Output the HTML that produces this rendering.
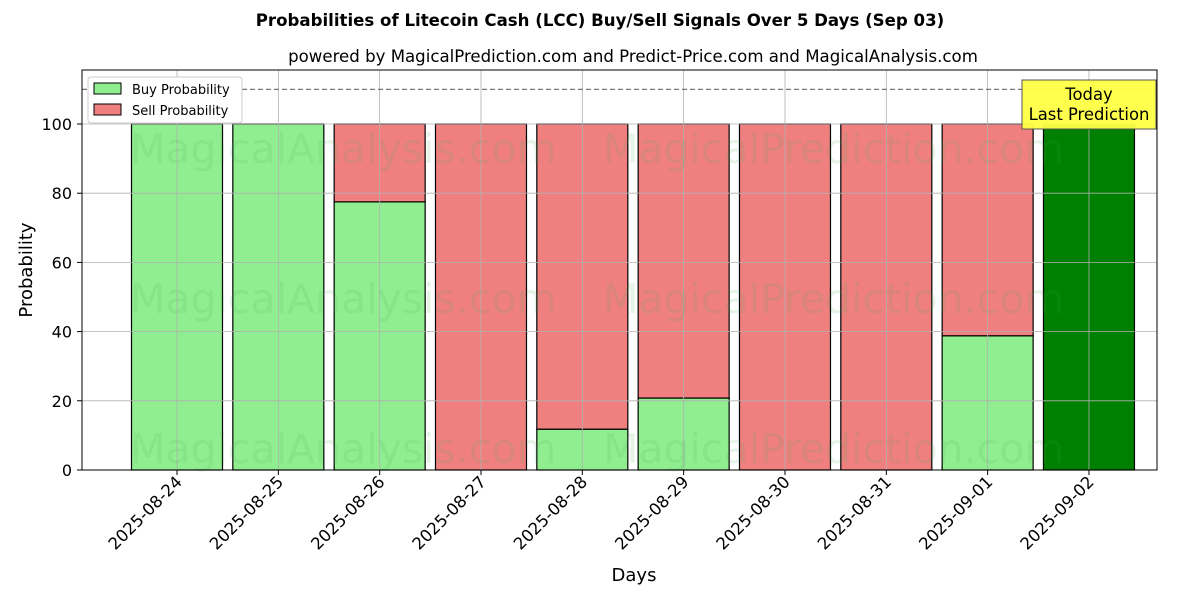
<!DOCTYPE html>
<html><head><meta charset="utf-8"><style>
body{margin:0;background:#fff;}
svg text{font-family:"DejaVu Sans","Liberation Sans",sans-serif;}
</style></head><body>
<svg id="chart" width="1200" height="600" xmlns="http://www.w3.org/2000/svg">
<rect width="1200" height="600" fill="#fff"/>
<text x="600" y="26" text-anchor="middle" font-size="16.6" font-weight="bold">Probabilities of Litecoin Cash (LCC) Buy/Sell Signals Over 5 Days (Sep 03)</text>
<text x="633" y="62" text-anchor="middle" font-size="16.6">powered by MagicalPrediction.com and Predict-Price.com and MagicalAnalysis.com</text>
<g id="bars"></g>
<g id="grid"></g>
<g fill="rgba(60,170,80,0.13)" font-size="41">
<text x="130" y="163">MagicalAnalysis.com</text><text x="603" y="163">MagicalPrediction.com</text>
<text x="130" y="313">MagicalAnalysis.com</text><text x="603" y="313">MagicalPrediction.com</text>
<text x="130" y="463">MagicalAnalysis.com</text><text x="603" y="463">MagicalPrediction.com</text>
</g>
<line x1="82" x2="1157" y1="89.4" y2="89.4" stroke="#777" stroke-dasharray="5,3" stroke-width="1.2"/>
<rect x="82" y="70" width="1075" height="400" fill="none" stroke="#000" stroke-width="1"/>
<g id="ticks"></g>
<text x="634" y="581" text-anchor="middle" font-size="18">Days</text>
<text transform="translate(32,270) rotate(-90)" text-anchor="middle" font-size="18">Probability</text>
<g>
<rect x="88" y="77" width="154" height="46" fill="#fff" stroke="#ccc" rx="3"/>
<rect x="94" y="83" width="27" height="11" fill="#90ee90" stroke="#000"/>
<text x="132" y="94" font-size="13">Buy Probability</text>
<rect x="94" y="104" width="27" height="11" fill="#f08080" stroke="#000"/>
<text x="132" y="115" font-size="13">Sell Probability</text>
</g>
<g>
<rect x="1022" y="80" width="134" height="49" fill="#ffff44" fill-opacity="0.95" stroke="#555"/>
<text x="1089" y="100" text-anchor="middle" font-size="16.4">Today</text>
<text x="1089" y="120" text-anchor="middle" font-size="16.4">Last Prediction</text>
</g>
</svg>
<script>
const categories=["2025-08-24","2025-08-25","2025-08-26","2025-08-27","2025-08-28","2025-08-29","2025-08-30","2025-08-31","2025-09-01","2025-09-02"];
const buyValues=[100,100,77.5,0,11.8,20.8,0,0,38.8,100];
const sellValues=[0,0,22.5,100,88.2,79.2,100,100,61.2,0];
const yTicks=[0,20,40,60,80,100];
const NS="http://www.w3.org/2000/svg";
const x=i=>177+i*101.33;
const y=v=>470-v*3.46;
const bw=91;
function mk(tag,attrs,parent){const e=document.createElementNS(NS,tag);for(const k in attrs)e.setAttribute(k,attrs[k]);parent.appendChild(e);return e;}
const bars=document.getElementById('bars'),grid=document.getElementById('grid'),ticks=document.getElementById('ticks');
categories.forEach((c,i)=>{
  const last=i===categories.length-1;
  const b=mk('rect',{x:x(i)-bw/2,y:y(buyValues[i]),width:bw,height:y(0)-y(buyValues[i]),fill:last?'#008000':'#90ee90',stroke:'#000','stroke-width':1.2},bars);
  
  
  const s=mk('rect',{x:x(i)-bw/2,y:y(buyValues[i]+sellValues[i]),width:bw,height:y(buyValues[i])-y(buyValues[i]+sellValues[i]),fill:'#f08080',stroke:'#000','stroke-width':1.2},bars);
  
  
  const g=mk('line',{x1:x(i),x2:x(i),y1:70,y2:470,stroke:'#b0b0b0','stroke-width':0.8},grid);
  
  
  mk('line',{x1:x(i),x2:x(i),y1:470,y2:475,stroke:'#000'},ticks);
  const t=mk('text',{x:0,y:0,'font-size':16.5,'text-anchor':'end',transform:`translate(${x(i)+6},${483}) rotate(-45)`},ticks);
  t.textContent=c;
  
  
});
yTicks.forEach(v=>{
  const g=mk('line',{x1:82,x2:1157,y1:y(v),y2:y(v),stroke:'#b0b0b0','stroke-width':0.8},grid);
  
  
  mk('line',{x1:77,x2:82,y1:y(v),y2:y(v),stroke:'#000'},ticks);
  const t=mk('text',{x:72,y:y(v)+6,'font-size':16,'text-anchor':'end'},ticks);
  t.textContent=v;
  
  
});
</script>
</body></html>
